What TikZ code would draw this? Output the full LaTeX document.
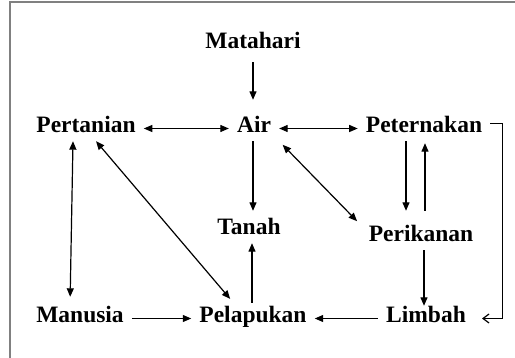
\documentclass[tikz,border=0pt]{standalone}
\usepackage{fontspec}
\setmainfont{Liberation Serif}
\usetikzlibrary{arrows.meta}

\tikzset{
  label/.style={font=\fontsize{23.5}{26}\selectfont\bfseries, text height=12pt, text depth=3pt, inner xsep=8pt, inner ysep=5pt},
  link/.style={line width=1.2pt, -{Triangle[length=8.5pt,width=7pt]}},
  twoway/.style={line width=1.2pt, {Triangle[length=8.5pt,width=7pt]}-{Triangle[length=8.5pt,width=7pt]}},
  openlink/.style={line width=1.2pt, -{Straight Barb[length=6pt,width=9pt]}}
}

\begin{document}
\begin{tikzpicture}[x=1pt, y=-1pt]
% page frame
\useasboundingbox (0,0) rectangle (515,358);
\draw[gray, line width=1.3pt] (10,358) -- (10,2) -- (515,2);

% the names
\node[label] (matahari) at (253,44.5) {Matahari};
\node[label] (air) at (254,128.5) {Air};
\node[label] (pertanian) at (86,128.5) {Pertanian};
\node[label] (peternakan) at (424,128.5) {Peternakan};
\node[label] (tanah) at (249,230.5) {Tanah};
\node[label] (perikanan) at (421,237.5) {Perikanan};
\node[label] (manusia) at (80,318.5) {Manusia};
\node[label] (pelapukan) at (253,318.5) {Pelapukan};
\node[label] (limbah) at (426,318.5) {Limbah};

% top row
\draw[link, shorten <=5pt, shorten >=16pt] (matahari.south) -- (matahari.south |- air.north);
\draw[twoway] (pertanian.east) -- (air.west);
\draw[twoway] (air.east) -- (peternakan.west);

% middle
\draw[link, shorten >=7pt] ([xshift=-1pt]air.south) -- ([xshift=-1pt]air.south |- tanah.north);
\draw[twoway, shorten <=5pt, shorten >=5pt] (air.south east) -- (perikanan.north west);
\draw[twoway, shorten >=9pt] ([xshift=-13pt]pertanian.south) -- ([xshift=-10pt]manusia.north);
\draw[twoway, shorten >=9pt] ([xshift=10pt]pertanian.south) -- ([xshift=-17pt]pelapukan.north);
\draw[link, shorten >=14pt] ([xshift=-18pt]peternakan.south) -- ([xshift=-18pt]peternakan.south |- perikanan.north);
\draw[link, shorten <=14pt, shorten >=2pt] ([xshift=4pt]perikanan.north) -- ([xshift=4pt]perikanan.north |- peternakan.south);
\draw[link] ([xshift=3pt]perikanan.south) -- ([xshift=3pt]perikanan.south |- limbah.north);
\draw[link, shorten <=3pt] ([xshift=-1pt]pelapukan.north) -- ([xshift=-1pt]pelapukan.north |- tanah.south);

% bottom row
\draw[link] (manusia.east) -- (pelapukan.west);
\draw[link] (limbah.west) -- (pelapukan.east);
\draw[openlink] ([yshift=5pt]peternakan.east) -- ++(12,0) |- ([xshift=8pt]limbah.east);
\end{tikzpicture}
\end{document}
